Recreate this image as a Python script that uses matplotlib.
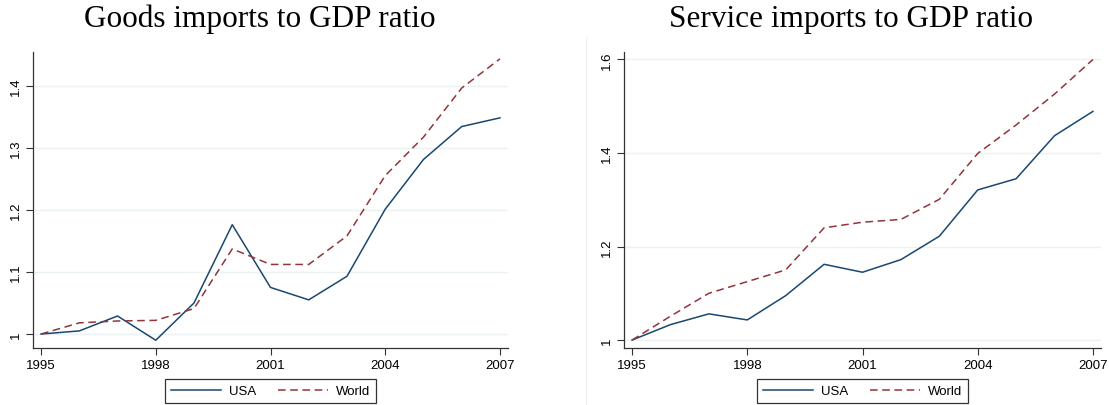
import matplotlib
matplotlib.use("Agg")
import matplotlib.pyplot as plt
from matplotlib.lines import Line2D

years = list(range(1995, 2008))

# Goods imports to GDP ratio (1995 = 1)
goods_usa = [1.000, 1.005, 1.029, 0.990, 1.050, 1.176, 1.075, 1.055, 1.093,
             1.201, 1.281, 1.334, 1.348]
goods_world = [1.000, 1.018, 1.021, 1.022, 1.041, 1.137, 1.112, 1.112, 1.158,
               1.255, 1.317, 1.396, 1.443]

# Service imports to GDP ratio (1995 = 1)
serv_usa = [1.000, 1.033, 1.056, 1.043, 1.095, 1.162, 1.145, 1.172, 1.222,
            1.321, 1.345, 1.437, 1.489]
serv_world = [1.000, 1.051, 1.100, 1.125, 1.150, 1.240, 1.252, 1.258, 1.301,
              1.399, 1.460, 1.526, 1.600]

xticks = [1995, 1998, 2001, 2004, 2007]
goods_yticks = [1.0, 1.1, 1.2, 1.3, 1.4]
goods_ylabels = ["1", "1.1", "1.2", "1.3", "1.4"]
serv_yticks = [1.0, 1.2, 1.4, 1.6]
serv_ylabels = ["1", "1.2", "1.4", "1.6"]

navy = "#1a476f"
maroon = "#90353b"
W, H = 1109, 406

plt.rcParams["font.family"] = ["Liberation Sans", "DejaVu Sans"]
fig = plt.figure(figsize=(W / 100, H / 100), dpi=100)


def make_panel(x0, x1, usa, world, yticks, ylabels, ylim, title, tx):
    ax = fig.add_axes([x0 / W, 1 - 349 / H, (x1 - x0) / W, (349 - 53) / H])
    ax.plot(years, usa, color=navy, lw=1.1)
    ax.plot(years, world, color=maroon, lw=1.1, ls=(0, (5, 3)))
    ax.set_xlim(1994.79, 2007.21)
    ax.set_ylim(*ylim)
    ax.set_xticks(xticks)
    ax.set_xticklabels([str(x) for x in xticks], fontsize=9.5)
    ax.set_yticks(yticks)
    ax.set_yticklabels(ylabels, fontsize=9.5, rotation=90, va="center")
    ax.grid(axis="y", color="#eaf2f3", lw=1.0)
    ax.set_axisbelow(True)
    for s in ["top", "right"]:
        ax.spines[s].set_visible(False)
    for s in ["left", "bottom"]:
        ax.spines[s].set_color("#333333")
        ax.spines[s].set_linewidth(0.9)
    ax.tick_params(direction="out", length=5, width=0.8, color="#333333",
                   pad=3)
    handles = [Line2D([], [], color=navy, lw=1.1),
               Line2D([], [], color=maroon, lw=1.1, ls=(0, (5, 3)))]
    leg = ax.legend(handles, ["USA", "World"], loc="upper center",
                    bbox_to_anchor=(0.5, -0.083), ncol=2, fontsize=9.5,
                    frameon=True, fancybox=False, edgecolor="black",
                    handlelength=3.8, columnspacing=1.6, borderpad=0.45,
                    handletextpad=0.6)
    leg.get_frame().set_linewidth(0.9)
    fig.text(tx / W, 1 - 27 / H, title, ha="center", va="baseline",
             fontsize=22.5, family="Liberation Serif")
    return ax


make_panel(33, 508, goods_usa, goods_world, goods_yticks, goods_ylabels,
           (0.9775, 1.454), "Goods imports to GDP ratio", 260)
make_panel(624, 1101, serv_usa, serv_world, serv_yticks, serv_ylabels,
           (0.983, 1.616), "Service imports to GDP ratio", 851)

fig.add_artist(Line2D([586 / W, 586 / W], [0, 1 - 38 / H],
                      color="#f0f0f0", lw=0.8))

fig.savefig("out.png", dpi=100)
